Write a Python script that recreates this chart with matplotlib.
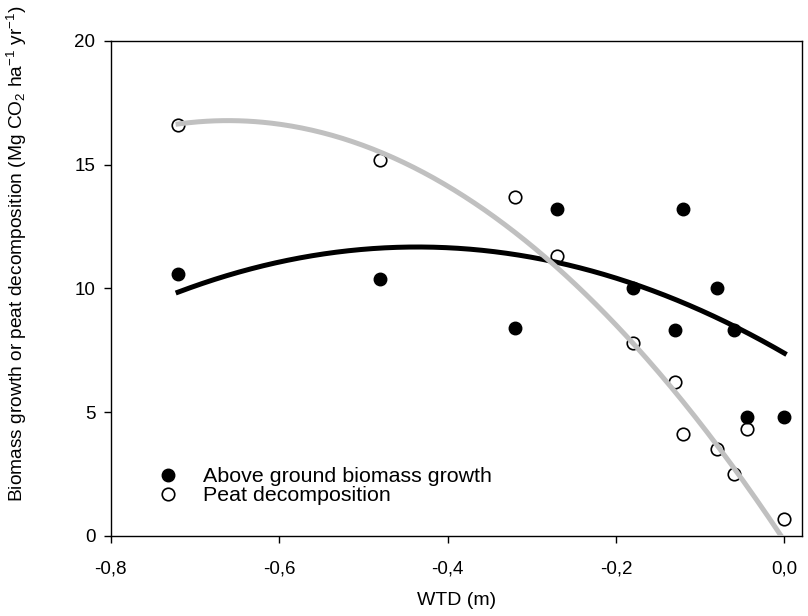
import numpy as np
import matplotlib.pyplot as plt

plt.rcParams['font.family'] = ['Liberation Sans', 'DejaVu Sans']
plt.rcParams['mathtext.default'] = 'regular'

# water table depth (m)
wtd = [-0.72, -0.48, -0.32, -0.27, -0.18, -0.13, -0.12, -0.08, -0.06, -0.045, 0.0]
# above ground biomass growth
biomass = [10.6, 10.4, 8.4, 13.2, 10.0, 8.3, 13.2, 10.0, 8.3, 4.8, 4.8]
# peat decomposition
peat = [16.6, 15.2, 13.7, 11.3, 7.8, 6.2, 4.1, 3.5, 2.5, 4.3, 0.7]

# quadratic regression coefficients (a*x^2 + b*x + c) as shown in the figure
fit_biomass = [-22.6, -19.7, 7.38]
fit_peat = [-38.9, -51.4, -0.2]

xticks = [-0.8, -0.6, -0.4, -0.2, 0.0]
xticklabels = ['-0,8', '-0,6', '-0,4', '-0,2', '0,0']
yticks = [0, 5, 10, 15, 20]

xs = np.linspace(min(wtd), max(wtd), 300)
yb = np.polyval(fit_biomass, xs)
yp = np.polyval(fit_peat, xs)
keep = yp >= 0

fig = plt.figure(figsize=(8.08, 6.16), dpi=100)
ax = fig.add_axes([0.137, 0.130, 0.8557, 0.8036])

ax.plot(wtd, biomass, 'o', color='black', markersize=9, label='Above ground biomass growth', zorder=3)
ax.plot(wtd, peat, 'o', markerfacecolor='white', markeredgecolor='black', markeredgewidth=1.2,
        markersize=9, label='Peat decomposition', zorder=2)
ax.plot(xs, yb, color='black', linewidth=3.6, zorder=4)
ax.plot(xs[keep], yp[keep], color='#c0c0c0', linewidth=3.6, zorder=4)

ax.set_xlim(-0.8, 0.021)
ax.set_ylim(0, 20)
ax.set_xticks(xticks)
ax.set_xticklabels(xticklabels)
ax.set_yticks(yticks)
ax.tick_params(direction='out', length=5, width=1, labelsize=13.5)
ax.tick_params(axis='x', pad=12.5)
ax.tick_params(axis='y', pad=6)
for s in ax.spines.values():
    s.set_linewidth(1)

ax.set_xlabel('WTD (m)', fontsize=14, labelpad=10.5)
ax.set_ylabel('Biomass growth or peat decomposition (Mg CO$_2$ ha$^{-1}$ yr$^{-1}$)', fontsize=13.8)
ax.yaxis.set_label_coords(-0.118, 0.57)

ax.legend(loc='center left', bbox_to_anchor=(0.052, 0.1), frameon=False, fontsize=15.4,
          handlelength=1.0, handletextpad=1.15, labelspacing=0.0, borderpad=0)

plt.savefig('out.png')
